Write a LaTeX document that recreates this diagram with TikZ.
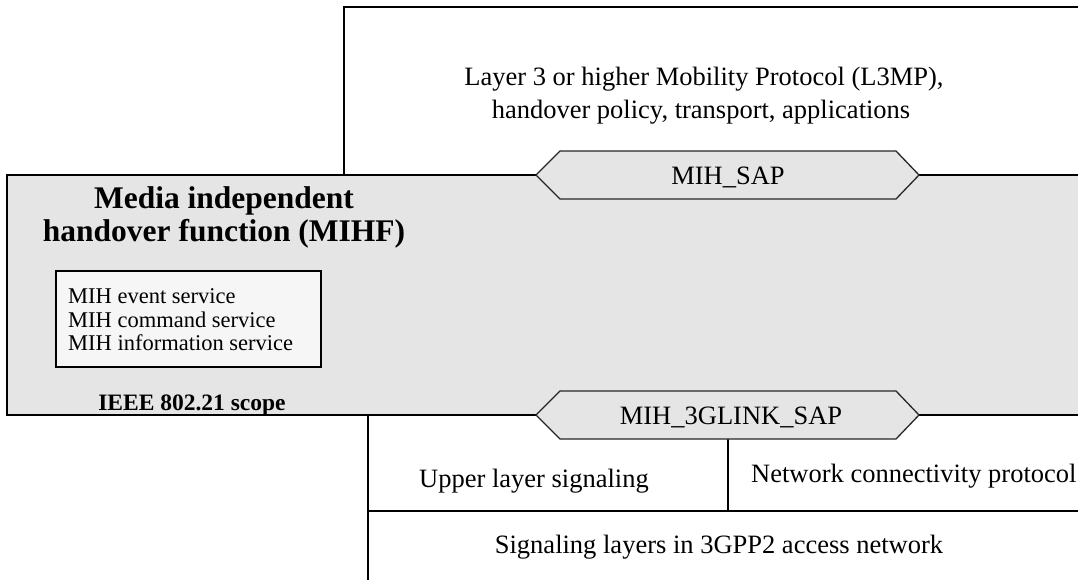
\documentclass[tikz,border=0pt]{standalone}
\usepackage{fontspec}
\setmainfont{Liberation Serif}
\definecolor{mihgray}{gray}{0.898}
\definecolor{svcfill}{gray}{0.965}
\definecolor{hexedge}{gray}{0.15}
\begin{document}
\begin{tikzpicture}[x=1pt,y=-1pt,
  frame/.style={draw=black, line width=2pt},
  sapshape/.style={draw=hexedge, line width=1.3pt, fill=mihgray, line join=miter},
  txt/.style={inner sep=0pt, anchor=base, font=\fontsize{26.5}{32}\selectfont},
  txtl/.style={txt, anchor=base west},
  svc/.style={inner sep=0pt, anchor=base west, font=\fontsize{22.5}{24}\selectfont},
  head/.style={inner sep=0pt, anchor=base, font=\fontsize{31.5}{34}\selectfont\bfseries},
  scope/.style={inner sep=0pt, anchor=base, font=\fontsize{23.5}{26}\selectfont\bfseries}]
\useasboundingbox (0,0) rectangle (1078,579);
\clip (0,0) rectangle (1078,579);

% upper layer box (L3MP and above)
\draw[frame] (344,176) -- (344,7) -- (1095,7);

% MIHF box
\fill[mihgray] (7,175) rectangle (1095,415);
\draw[frame] (1095,175) -- (7,175) -- (7,415) -- (1095,415);

% lower layers of the 3GPP2 access network
\draw[frame] (368,415) -- (368,590);
\draw[frame] (368,511) -- (1095,511);
\draw[frame] (728,439) -- (728,511);

% service access points
\draw[sapshape] (536,175) -- (560,151) -- (896,151) -- (919,175) -- (896,199) -- (560,199) -- cycle;
\draw[sapshape] (536,415) -- (560,391) -- (896,391) -- (919,415) -- (896,439) -- (560,439) -- cycle;

% MIH services box
\draw[frame, fill=svcfill] (56,271) rectangle (321,367);

% labels
\node[txt] (l3a) at (704,85) {Layer 3 or higher Mobility Protocol (L3MP),};
\node[txt] (l3b) at (701,118) {handover policy, transport, applications};
\node[txt] (sap) at (728,184) {MIH\_SAP};
\node[txt] (linksap) at (731,424) {MIH\_3GLINK\_SAP};

\node[head] (mihf1) at (224,208) {Media independent};
\node[head] (mihf2) at (224,241) {handover function (MIHF)};

\node[svc] (ev) at (68,303) {MIH event service};
\node[svc] (cmd) at (68,327) {MIH command service};
\node[svc] (inf) at (68,350) {MIH information service};

\node[scope] (sc) at (192,410) {IEEE 802.21 scope};

\node[txtl] (uls) at (419,487) {Upper layer signaling};
\node[txtl] (ncp) at (751,482) {Network connectivity protocol};
\node[txt] (sig) at (719,553) {Signaling layers in 3GPP2 access network};
\end{tikzpicture}
\end{document}
